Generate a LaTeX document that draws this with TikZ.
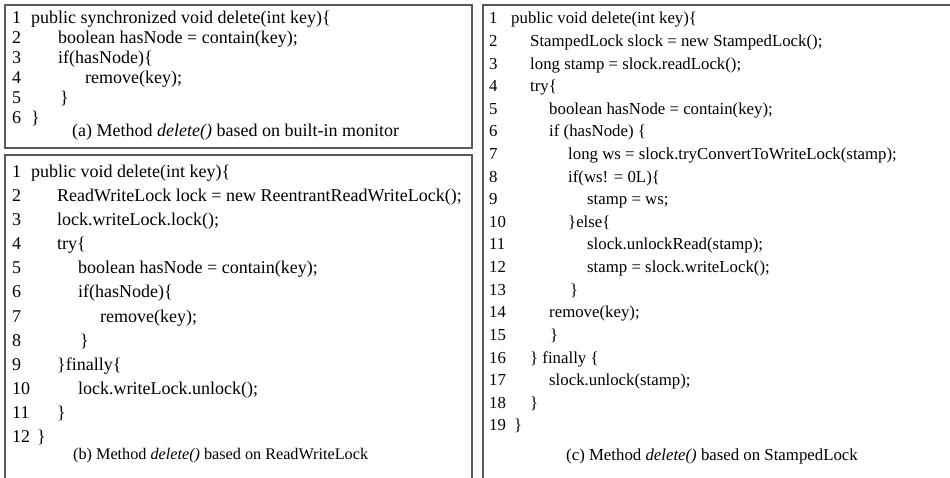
\documentclass[tikz,border=0pt]{standalone}
\usepackage{fontspec}
\setmainfont{Liberation Serif}
\newcommand\codefont{\fontsize{18}{21.5}\selectfont}
\newcommand\smallcodefont{\fontsize{16.8}{21}\selectfont}
\newcommand\captfontb{\fontsize{16.2}{20}\selectfont}
\tikzset{
  panel/.style={draw=black!65, line width=1.3pt},
  lnum/.style={anchor=base west, inner sep=0pt, font=\codefont},
  ltext/.style={anchor=base west, inner sep=0pt, font=\codefont},
  capt/.style={anchor=base west, inner sep=0pt, font=\codefont},
  small/.style={font=\smallcodefont},
}
% one numbered source line: name, vertical centre, number, indent, text
\newcommand\numx{0}
\newcommand\lnopt{}
\newcommand\codeln[5]{%
  \node[lnum,\lnopt] (#1n) at (\numx,#2+6) {#3};
  \node[ltext,\lnopt] (#1t) at (#4,#2+6) {#5};}
\begin{document}
\begin{tikzpicture}[x=1pt,y=-1pt]
\useasboundingbox (0,0) rectangle (950,478);

% panel frames
\draw[panel] (5,5) rectangle (472,148);
\draw[panel] (5,155) rectangle (472,495);
\draw[panel] (483,5) rectangle (960,495);

% (a) built-in monitor
\renewcommand\numx{12}
\codeln{a1}{18}{1}{31}{public synchronized void delete(int key)\{}
\codeln{a2}{38}{2}{58}{boolean hasNode = contain(key);}
\codeln{a3}{58}{3}{58}{if(hasNode)\{}
\codeln{a4}{78}{4}{85}{remove(key);}
\codeln{a5}{98}{5}{60}{\}}
\codeln{a6}{118}{6}{31}{\}}
\node[capt] (capa) at (72,137) {(a) Method \textit{delete()} based on built-in monitor};

% (b) ReadWriteLock
\codeln{b1}{172}{1}{31}{public void delete(int key)\{}
\codeln{b2}{196}{2}{57}{ReadWriteLock lock = new ReentrantReadWriteLock();}
\codeln{b3}{220}{3}{57}{lock.writeLock.lock();}
\codeln{b4}{244}{4}{57}{try\{}
\codeln{b5}{268}{5}{78}{boolean hasNode = contain(key);}
\codeln{b6}{292}{6}{78}{if(hasNode)\{}
\codeln{b7}{316}{7}{100}{remove(key);}
\codeln{b8}{340}{8}{80}{\}}
\codeln{b9}{364}{9}{57}{\}finally\{}
\codeln{b10}{388}{10}{78}{lock.writeLock.unlock();}
\codeln{b11}{412}{11}{57}{\}}
\codeln{b12}{436}{12}{37}{\}}
\node[capt,font=\captfontb] (capb) at (73,459) {(b) Method \textit{delete()} based on ReadWriteLock};

% (c) StampedLock
\renewcommand\numx{489}
\renewcommand\lnopt{small}
\codeln{c1}{18}{1}{511}{public void delete(int key)\{}
\codeln{c2}{40.6}{2}{530}{StampedLock slock = new StampedLock();}
\codeln{c3}{63.2}{3}{530}{long stamp = slock.readLock();}
\codeln{c4}{85.8}{4}{530}{try\{}
\codeln{c5}{108.4}{5}{549}{boolean hasNode = contain(key);}
\codeln{c6}{131}{6}{549}{if (hasNode) \{}
\codeln{c7}{153.6}{7}{568}{long ws = slock.tryConvertToWriteLock(stamp);}
\codeln{c8}{176.2}{8}{568}{if(ws! = 0L)\{}
\codeln{c9}{198.8}{9}{587}{stamp = ws;}
\codeln{c10}{221.4}{10}{568}{\}else\{}
\codeln{c11}{244}{11}{587}{slock.unlockRead(stamp);}
\codeln{c12}{266.6}{12}{587}{stamp = slock.writeLock();}
\codeln{c13}{289.2}{13}{570}{\}}
\codeln{c14}{311.8}{14}{549}{remove(key);}
\codeln{c15}{334.4}{15}{550}{\}}
\codeln{c16}{357}{16}{530}{\} finally \{}
\codeln{c17}{379.6}{17}{549}{slock.unlock(stamp);}
\codeln{c18}{402.2}{18}{530}{\}}
\codeln{c19}{424.8}{19}{514}{\}}
\node[capt,small] (capc) at (566,460) {(c) Method \textit{delete()} based on StampedLock};
\end{tikzpicture}
\end{document}
